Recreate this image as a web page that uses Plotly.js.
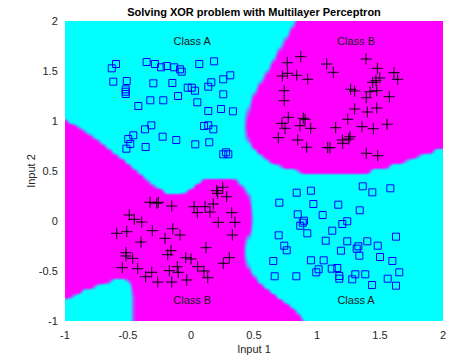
<!DOCTYPE html>
<html><head><meta charset="utf-8">
<script src="https://cdn.plot.ly/plotly-3.0.1.min.js"></script>
<style>html,body{margin:0;padding:0;background:#fff}</style>
</head><body><div id="chart" style="width:457px;height:357px"></div>
<script>
// Class A samples (blue squares)
const classAX = [-0.629,-0.595,-0.352,-0.286,-0.238,-0.193,-0.133,-0.087,-0.074,0.066,0.183,-0.617,-0.510,-0.518,-0.518,-0.518,-0.299,-0.148,-0.026,0.006,0.032,0.137,0.161,0.256,0.312,0.256,-0.103,-0.220,-0.323,-0.418,0.050,0.137,0.238,0.333,-0.315,-0.365,-0.458,-0.498,-0.482,-0.513,-0.360,-0.225,-0.117,0.034,0.145,0.103,0.137,0.177,0.256,0.278,0.296,
  0.839,0.952,0.701,0.971,1.169,1.363,1.439,1.582,1.339,0.847,1.045,0.897,0.887,0.867,1.240,1.201,0.923,1.121,0.696,0.740,0.760,1.069,1.240,1.399,1.627,1.482,1.328,1.315,1.190,1.336,1.500,0.653,0.952,1.053,1.598,1.013,0.994,1.117,1.161,0.664,0.836,1.177,1.177,1.280,1.304,1.383,1.561,1.653,1.437,1.627];
const classAY = [1.527,1.570,1.590,1.570,1.537,1.550,1.537,1.517,1.493,1.570,1.597,1.393,1.400,1.317,1.293,1.270,1.377,1.380,1.333,1.333,1.303,1.343,1.387,1.417,1.457,1.267,1.250,1.207,1.207,1.150,1.187,1.100,1.120,1.097,0.957,0.917,0.857,0.820,0.770,0.723,0.740,0.843,0.810,0.767,0.787,0.950,0.957,0.917,0.667,0.687,0.667,
  0.283,0.303,0.183,0.170,0.163,0.347,0.287,0.327,0.107,0.067,0.060,0.003,-0.017,-0.047,-0.003,-0.030,-0.123,-0.097,-0.143,-0.247,-0.293,-0.197,-0.203,-0.203,-0.157,-0.247,-0.253,-0.277,-0.297,-0.347,-0.360,-0.400,-0.393,-0.393,-0.400,-0.483,-0.513,-0.477,-0.470,-0.553,-0.553,-0.550,-0.577,-0.583,-0.533,-0.533,-0.577,-0.513,-0.640,-0.647];
// Class B samples (black pluses)
const classBX = [0.871,0.764,1.077,1.389,1.479,1.611,1.640,0.725,0.767,0.839,0.926,1.129,0.740,0.740,1.267,1.299,1.391,1.421,1.474,1.442,1.468,1.498,1.574,0.772,0.722,0.746,0.891,0.905,0.865,0.950,0.693,0.847,0.918,1.148,1.244,1.299,1.399,1.474,1.357,1.447,1.556,1.262,1.252,1.201,1.204,1.085,1.103,1.391,1.482,
  0.204,0.252,0.212,0.283,-0.325,-0.272,-0.260,-0.153,0.024,0.050,0.111,0.151,0.177,0.323,-0.490,-0.450,-0.391,0.217,0.349,-0.590,-0.510,-0.307,-0.145,-0.206,-0.087,-0.397,0.328,0.119,-0.516,-0.516,-0.463,-0.185,-0.159,-0.042,0.000,0.304,0.256,-0.545,-0.423,-0.312,-0.360,-0.172,-0.109,-0.101,0.053,0.103,0.133,-0.264,-0.153,-0.034];
const classBY = [1.643,1.583,1.570,1.620,1.527,1.483,1.417,1.450,1.477,1.457,1.417,1.487,1.303,1.203,1.317,1.300,1.233,1.293,1.303,1.387,1.403,1.430,1.243,1.037,0.977,0.927,1.027,1.017,0.953,0.927,0.833,0.810,0.737,0.933,1.017,1.120,1.090,1.130,0.943,0.923,0.967,0.843,0.820,0.810,0.777,0.733,0.733,0.677,0.653,
  0.303,0.337,0.277,0.243,0.187,0.177,0.187,0.150,0.143,0.083,0.143,0.090,0.170,0.083,0.060,0.017,-0.010,-0.013,-0.013,-0.123,-0.107,-0.097,-0.077,-0.173,-0.140,-0.210,-0.140,-0.267,-0.317,-0.350,-0.373,-0.337,-0.297,-0.367,-0.380,-0.367,-0.423,-0.467,-0.477,-0.513,-0.557,-0.497,-0.457,-0.513,-0.457,-0.500,-0.567,-0.610,-0.610,-0.590];

const labelX = [0.01, 1.31, 0.01, 1.31];
const labelY = [1.79, 1.79, -0.80, -0.80];
const labelText = ['Class A', 'Class B', 'Class B', 'Class A'];

const tickVals = [-1, -0.5, 0, 0.5, 1, 1.5, 2];
const tickText = ['-1', '-0.5', '0', '0.5', '1', '1.5', '2'];

// Decision region: for each row (y = 2 down to -1, step 0.05),
// the x-intervals classified as class B (magenta).
const classBSpans = [
 [[0.825,2]],[[0.803,2]],[[0.780,2]],[[0.758,2]],[[0.736,2]],[[0.713,2]],[[0.690,2]],[[0.668,2]],
 [[0.646,2]],[[0.623,2]],[[0.601,2]],[[0.579,2]],[[0.556,2]],[[0.533,2]],[[0.510,2]],[[0.489,2]],
 [[0.472,2]],[[0.459,2]],[[0.447,2]],[[0.439,2]],
 [[-1,-0.985],[0.433,2]],[[-1,-0.906],[0.430,2]],[[-1,-0.848],[0.433,2]],[[-1,-0.790],[0.440,2]],
 [[-1,-0.738],[0.451,2]],[[-1,-0.686],[0.480,2]],[[-1,-0.633],[0.516,1.92]],[[-1,-0.582],[0.563,1.80]],
 [[-1,-0.529],[0.611,1.70]],[[-1,-0.479],[0.706,1.57]],[[-1,-0.433],[0.85,1.42]],
 [[-1,-0.389]],[[-1,-0.344],[0.079,0.365]],[[-1,-0.294],[0.024,0.405]],[[-1,-0.222],[-0.040,0.437]],
 [[-1,0.456]],[[-1,0.464]],[[-1,0.472]],[[-1,0.480]],[[-1,0.484]],[[-1,0.484]],[[-1,0.480]],[[-1,0.472]],
 [[-1,0.452]],[[-1,0.437]],[[-1,0.429]],[[-1,0.425]],[[-1,0.429]],[[-1,0.437]],[[-1,0.448]],[[-1,0.468]],
 [[-1,0.500]],[[-1,-0.643],[-0.500,0.532]],[[-1,-0.762],[-0.476,0.571]],[[-1,-0.865],[-0.468,0.619]],
 [[-1,-0.944],[-0.460,0.675]],[[-0.460,0.730]],[[-0.460,0.786]],[[-0.460,0.833]],[[-0.460,0.865]],[[-0.460,0.897]]
];

const step = 0.05;
const gx = [];
for (let j = 0; j <= 60; j++) gx.push(+(-1 + j * step).toFixed(2));
const gy = [], gz = [];
for (let i = classBSpans.length - 1; i >= 0; i--) {
  gy.push(+(2 - i * step).toFixed(2));
  gz.push(gx.map(x => {
    let v = 0;
    for (const [a0, b0] of classBSpans[i]) {
      const a = a0 <= -1 ? -Infinity : a0;
      const b = b0 >= 2 ? Infinity : b0;
      const c = Math.min(1, Math.max(0, (x - a) / step + 0.5)) * Math.min(1, Math.max(0, (b - x) / step + 0.5));
      v = Math.max(v, c);
    }
    return v;
  }));
}

const FONT = 'Liberation Sans, Arial, Helvetica, sans-serif';
const traces = [
  {type: 'heatmap', x: gx, y: gy, z: gz, zmin: 0, zmax: 1, zsmooth: 'best',
   colorscale: [[0, '#00FFFF'], [0.2, '#00FFFF'], [0.8, '#FF00FF'], [1, '#FF00FF']],
   showscale: false, hoverinfo: 'skip'},
  {type: 'scatter', mode: 'markers', x: classAX, y: classAY, name: 'Class A',
   marker: {symbol: 'square-open', size: 7, color: '#0000FF', line: {width: 1, color: '#0000FF'}}},
  {type: 'scatter', mode: 'markers', x: classBX, y: classBY, name: 'Class B',
   marker: {symbol: 'cross-thin-open', size: 8, color: '#000000', line: {width: 1, color: '#000000'}}},
  {type: 'scatter', mode: 'text', x: labelX, y: labelY, text: labelText,
   textfont: {family: FONT, size: 11, color: '#1a1a1a'}, hoverinfo: 'skip'}
];

const axisBase = {
  range: [-1, 2], tickmode: 'array', tickvals: tickVals, ticktext: tickText,
  showgrid: false, zeroline: false, showline: false,
  ticks: 'outside', ticklen: 4, tickcolor: 'rgba(0,0,0,0)',
  tickfont: {family: FONT, size: 11, color: '#262626'}
};

const layout = {
  width: 457, height: 357,
  margin: {l: 65, r: 14, t: 21, b: 36, pad: 0},
  paper_bgcolor: '#ffffff', plot_bgcolor: '#ffffff',
  showlegend: false,
  font: {family: FONT},
  title: {text: 'Solving XOR problem with Multilayer Perceptron',
          font: {family: FONT, size: 11, color: '#000000', weight: 'bold'},
          xref: 'paper', x: 0.5, xanchor: 'center', yref: 'container', y: 0.967, yanchor: 'middle'},
  xaxis: Object.assign({}, axisBase, {title: {text: 'Input 1', font: {family: FONT, size: 11, color: '#262626'}, standoff: 5}}),
  yaxis: Object.assign({}, axisBase, {title: {text: 'Input 2', font: {family: FONT, size: 11, color: '#262626'}, standoff: 0}})
};

Plotly.newPlot('chart', traces, layout, {displayModeBar: false, staticPlot: true});
</script>
</body></html>
